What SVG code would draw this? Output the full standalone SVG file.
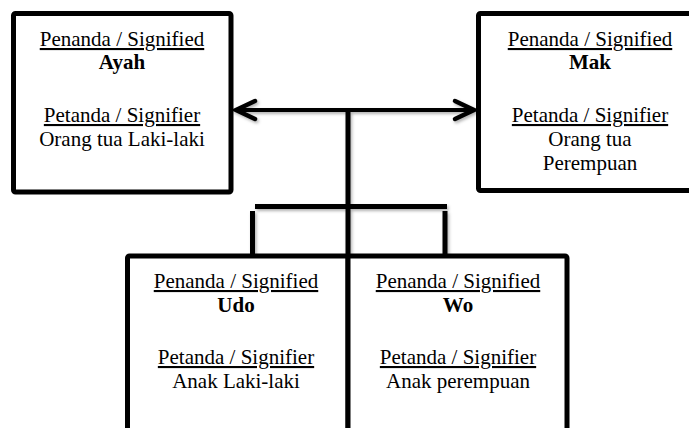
<svg xmlns="http://www.w3.org/2000/svg" width="689" height="428" viewBox="0 0 689 428">
  <defs>
    <filter id="shadow" x="-10%" y="-10%" width="120%" height="120%">
      <feDropShadow dx="1.5" dy="2" stdDeviation="1.5" flood-color="#000" flood-opacity="0.3"/>
    </filter>
    <marker id="head" viewBox="0 0 24 24" refX="20" refY="12" markerWidth="24" markerHeight="24" markerUnits="userSpaceOnUse" orient="auto-start-reverse" overflow="visible">
      <path d="M3,3 L22,12 L3,21" fill="none" stroke="#000" stroke-width="4.5" stroke-linecap="round" stroke-linejoin="miter"/>
    </marker>
  </defs>
  <style>
    .box { fill: #fff; stroke: #000; stroke-width: 5; stroke-linejoin: round; }
    .line { fill: none; stroke: #000; stroke-width: 5; }
    .thin { fill: none; stroke: #000; stroke-width: 4; }
    text { font-family: "Liberation Serif", "Times New Roman", serif; font-size: 21px; fill: #000; text-anchor: middle; }
    .u { text-decoration: underline; }
    .b { font-weight: bold; }
  </style>

  <rect width="689" height="428" fill="#fff"/>

  <!-- connectors -->
  <g id="connectors" filter="url(#shadow)">
    <line class="thin" x1="238" y1="110" x2="472" y2="110" marker-start="url(#head)" marker-end="url(#head)"/>
    <line class="line" x1="348" y1="110" x2="348" y2="256"/>
    <line class="line" x1="255" y1="206.5" x2="447" y2="206.5"/>
    <line class="line" x1="252.5" y1="211" x2="252.5" y2="256"/>
    <line class="line" x1="445" y1="211" x2="445" y2="256"/>
  </g>

  <!-- parent: Ayah -->
  <g id="node-ayah">
    <rect class="box" x="13.5" y="13.5" width="217.5" height="178.5" rx="2"/>
    <text x="122" y="46" class="u">Penanda / Signified</text>
    <text x="122" y="69" class="b">Ayah</text>
    <text x="122" y="122" class="u">Petanda / Signifier</text>
    <text x="122" y="146">Orang tua Laki-laki</text>
  </g>

  <!-- parent: Mak -->
  <g id="node-mak">
    <rect class="box" x="478.5" y="13.5" width="225" height="177" rx="2"/>
    <text x="590" y="46" class="u">Penanda / Signified</text>
    <text x="590" y="69" class="b">Mak</text>
    <text x="590" y="122" class="u">Petanda / Signifier</text>
    <text x="590" y="146">Orang tua</text>
    <text x="590" y="170">Perempuan</text>
  </g>

  <!-- child: Udo -->
  <g id="node-udo">
    <rect class="box" x="127.5" y="256" width="220.5" height="200" rx="2"/>
    <text x="236" y="288" class="u">Penanda / Signified</text>
    <text x="236" y="312" class="b">Udo</text>
    <text x="236" y="364" class="u">Petanda / Signifier</text>
    <text x="236" y="388">Anak Laki-laki</text>
  </g>

  <!-- child: Wo -->
  <g id="node-wo">
    <rect class="box" x="348" y="256" width="219" height="200" rx="2"/>
    <text x="458" y="288" class="u">Penanda / Signified</text>
    <text x="458" y="312" class="b">Wo</text>
    <text x="458" y="364" class="u">Petanda / Signifier</text>
    <text x="458" y="388">Anak perempuan</text>
  </g>
</svg>
